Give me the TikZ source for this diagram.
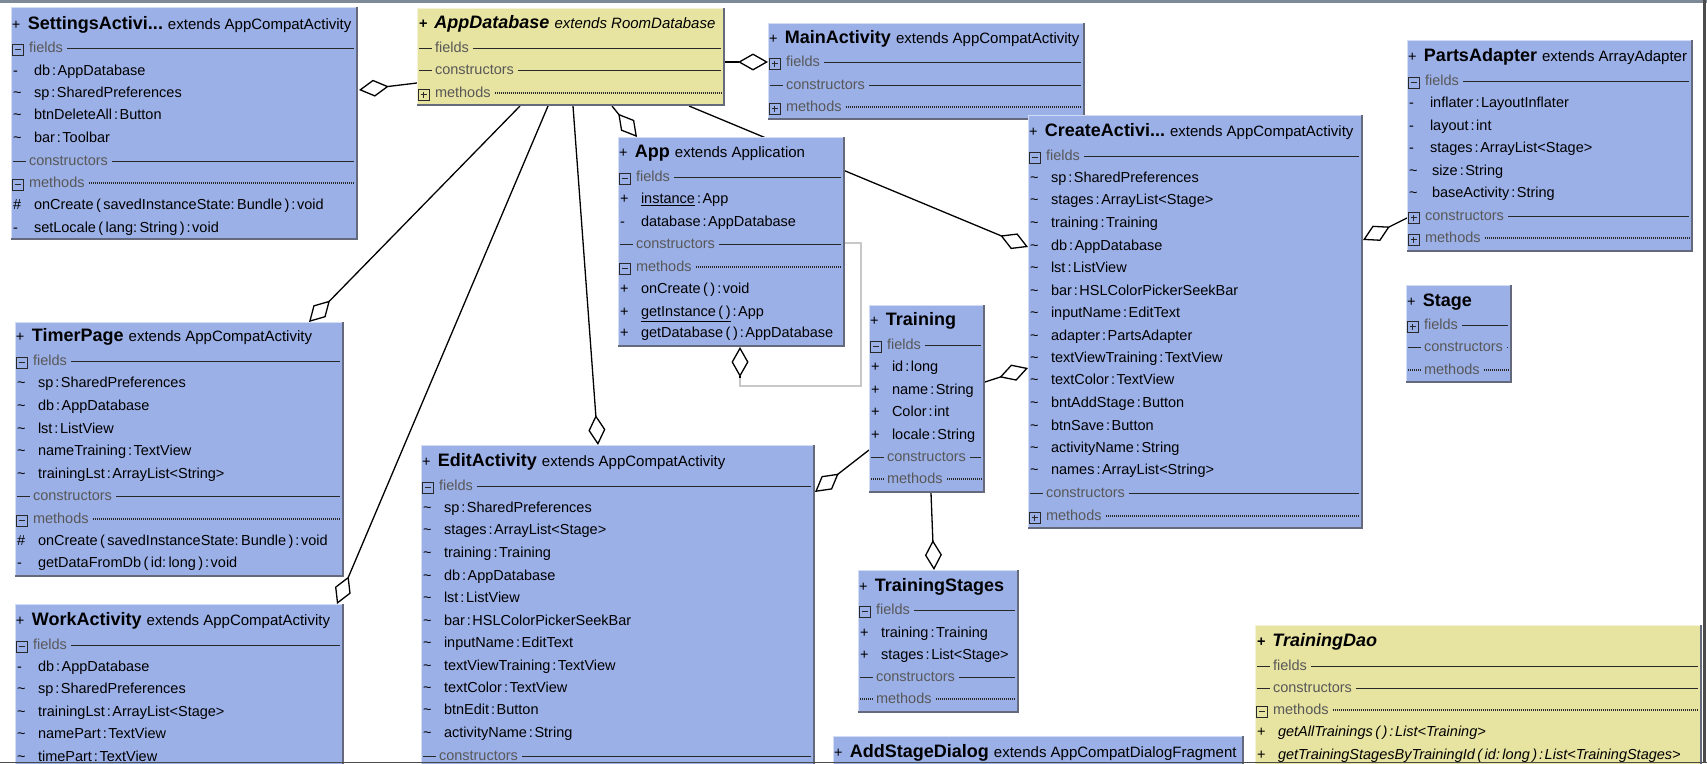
\documentclass[tikz,border=0pt]{standalone}
\usepackage{fontspec}
\setmainfont{Liberation Sans}
\usetikzlibrary{arrows.meta,calc}
\pgfdeclarelayer{bg}
\pgfsetlayers{bg,main}
\definecolor{umlblue}{RGB}{156,176,232}
\definecolor{umlyellow}{RGB}{231,227,161}
\definecolor{edgedark}{RGB}{100,106,124}
\definecolor{seclabel}{RGB}{88,88,88}
\definecolor{secline}{RGB}{40,40,40}
\definecolor{loopgrey}{RGB}{200,200,200}
\definecolor{framegrey}{RGB}{125,137,150}
\newcounter{tn}
\tikzset{
 box/.style={draw=none, inner sep=0pt, outer sep=0pt, rectangle},
 txt/.style={inner sep=0pt, outer sep=0pt, anchor=base west, font=\fontsize{14.5}{17}\selectfont},
 lbl/.style={txt, text=seclabel},
 secsolid/.style={draw=secline, line width=0.9pt},
 secdot/.style={draw=secline, line width=1.1pt, dash pattern=on 1pt off 1pt},
 iconline/.style={draw=secline, line width=1pt},
 conn/.style={draw=black, line width=1.3pt, -{Diamond[length=30pt,width=17pt,fill=white]}},
 loopline/.style={draw=loopgrey, line width=1.3pt},
}
\newcommand\Cn{\hspace{2pt}:\hspace{1.5pt}}
\newcommand\Sp{\hspace{2.5pt}}
\newcommand\Tl{\textasciitilde}
\newcommand\CBox[6]{%
 \node[box, fill=#6, minimum width=#4pt, minimum height=#5pt, anchor=north west] (#1) at (#2,#3) {};
 \draw[white!55!#6, line width=1pt] ([xshift=0.5pt]#1.south west) -- ([xshift=0.5pt,yshift=-0.5pt]#1.north west) -- ([yshift=-0.5pt]#1.north east);
 \draw[edgedark, line width=2pt] ([xshift=-1pt]#1.north east) -- ([xshift=-1pt,yshift=1pt]#1.south east) -- ([yshift=1pt]#1.south west);
}
\newcommand\Ttl[4]{\stepcounter{tn}\node[txt] (n\arabic{tn}) at (#1+1,#2+4.5) {+\hspace{7.5pt}{\fontsize{18}{20}\selectfont\bfseries #3}\hspace{5pt}{\fontsize{15}{17}\selectfont #4}};}
\newcommand\TtlI[4]{\stepcounter{tn}\node[txt] (n\arabic{tn}) at (#1+2,#2+4.5) {{\bfseries +}\hspace{7pt}{\fontsize{18}{20}\selectfont\bfseries\itshape #3}\hspace{5pt}{\fontsize{15}{17}\selectfont\itshape #4}};}
\newcommand\Mem[4]{\stepcounter{tn}\node[txt] (n\arabic{tn}) at (#1+2,#2+4.5) {#3};\stepcounter{tn}\node[txt] (n\arabic{tn}) at (#1+23,#2+4.5) {#4};}
\newcommand\SecBody[5]{%
 \stepcounter{tn}\node[lbl] (n\arabic{tn}) at (#1+18,#2+4.5) {#4};
 \coordinate (r\arabic{tn}) at (0,#2);
 \draw[#5] (n\arabic{tn}.east |- r\arabic{tn}) ++(4,0) -- (#3-4,#2);}
\newcommand\SecM[5]{%
 \draw[iconline] (#1+1,#2-4) rectangle (#1+12,#2+7);
 \draw[iconline] (#1+3.5,#2+1.5) -- (#1+9.5,#2+1.5);
 \SecBody{#1}{#2}{#3}{#4}{#5}}
\newcommand\SecP[5]{%
 \draw[iconline] (#1+1,#2-4) rectangle (#1+12,#2+7);
 \draw[iconline] (#1+3.5,#2+1.5) -- (#1+9.5,#2+1.5);
 \draw[iconline] (#1+6.5,#2-1.5) -- (#1+6.5,#2+4.5);
 \SecBody{#1}{#2}{#3}{#4}{#5}}
\newcommand\SecS[5]{%
 \draw[#5] (#1+2,#2) -- (#1+15,#2);
 \SecBody{#1}{#2}{#3}{#4}{#5}}
\begin{document}
\begin{tikzpicture}[x=1pt,y=-1pt]
\useasboundingbox (0,0) rectangle (1707,763);
\clip (0,0) rectangle (1707,763);
% ---------- boxes ----------
\CBox{settings}{11}{7}{347}{233}{umlblue}
\CBox{appdb}{417}{8}{308}{98}{umlyellow}
\CBox{mainact}{768}{23}{317}{97}{umlblue}
\CBox{app}{618}{137}{227}{210}{umlblue}
\CBox{create}{1028}{115}{335}{414}{umlblue}
\CBox{parts}{1407}{40}{286}{212}{umlblue}
\CBox{stage}{1406}{285}{106}{98}{umlblue}
\CBox{training}{869}{305}{116}{188}{umlblue}
\CBox{timer}{15}{322}{329}{255}{umlblue}
\CBox{work}{15}{604}{329}{220}{umlblue}
\CBox{edit}{421}{445}{394}{360}{umlblue}
\CBox{tstages}{858}{570}{161}{143}{umlblue}
\CBox{addstage}{833}{736}{411}{80}{umlblue}
\CBox{dao}{1255}{625}{447}{180}{umlyellow}
% ---------- SettingsActivity ----------
\Ttl{11}{25}{SettingsActivi...}{extends AppCompatActivity}
\SecM{11}{48}{358}{fields}{secsolid}
\Mem{11}{71}{-}{db\Cn AppDatabase}
\Mem{11}{93}{\Tl}{sp\Cn SharedPreferences}
\Mem{11}{115}{\Tl}{btnDeleteAll\Cn Button}
\Mem{11}{138}{\Tl}{bar\Cn Toolbar}
\SecS{11}{161}{358}{constructors}{secsolid}
\SecM{11}{183}{358}{methods}{secdot}
\Mem{11}{205}{\#}{onCreate\,(\,savedInstanceState:\,Bundle\,)\Cn void}
\Mem{11}{228}{-}{setLocale\,(\,lang:\,String\,)\Cn void}
% ---------- AppDatabase ----------
\TtlI{417}{24}{AppDatabase}{extends RoomDatabase}
\SecS{417}{48}{725}{fields}{secsolid}
\SecS{417}{70}{725}{constructors}{secsolid}
\SecP{417}{93}{725}{methods}{secdot}
% ---------- MainActivity ----------
\Ttl{768}{39}{MainActivity}{extends AppCompatActivity}
\SecP{768}{62}{1085}{fields}{secsolid}
\SecS{768}{85}{1085}{constructors}{secsolid}
\SecP{768}{107}{1085}{methods}{secdot}
% ---------- App ----------
\Ttl{618}{153}{App}{extends Application}
\SecM{618}{177}{845}{fields}{secsolid}
\Mem{618}{199}{+}{\underline{instance}\Cn App}
\Mem{618}{222}{-}{database\Cn AppDatabase}
\SecS{618}{244}{845}{constructors}{secsolid}
\SecM{618}{267}{845}{methods}{secdot}
\Mem{618}{289}{+}{onCreate\Sp(\Sp)\Cn void}
\Mem{618}{312}{+}{\underline{getInstance\Sp(\Sp)}\Cn App}
\Mem{618}{333}{+}{getDatabase\Sp(\Sp)\Cn AppDatabase}
% ---------- CreateActivity ----------
\Ttl{1028}{132}{CreateActivi...}{extends AppCompatActivity}
\SecM{1028}{156}{1363}{fields}{secsolid}
\Mem{1028}{178}{\Tl}{sp\Cn SharedPreferences}
\Mem{1028}{200}{\Tl}{stages\Cn ArrayList<Stage>}
\Mem{1028}{223}{\Tl}{training\Cn Training}
\Mem{1028}{246}{\Tl}{db\Cn AppDatabase}
\Mem{1028}{268}{\Tl}{lst\Cn ListView}
\Mem{1028}{291}{\Tl}{bar\Cn HSLColorPickerSeekBar}
\Mem{1028}{313}{\Tl}{inputName\Cn EditText}
\Mem{1028}{336}{\Tl}{adapter\Cn PartsAdapter}
\Mem{1028}{358}{\Tl}{textViewTraining\Cn TextView}
\Mem{1028}{380}{\Tl}{textColor\Cn TextView}
\Mem{1028}{403}{\Tl}{bntAddStage\Cn Button}
\Mem{1028}{426}{\Tl}{btnSave\Cn Button}
\Mem{1028}{448}{\Tl}{activityName\Cn String}
\Mem{1028}{470}{\Tl}{names\Cn ArrayList<String>}
\SecS{1028}{493}{1363}{constructors}{secsolid}
\SecP{1028}{516}{1363}{methods}{secdot}
% ---------- PartsAdapter ----------
\Ttl{1407}{57}{PartsAdapter}{extends ArrayAdapter}
\SecM{1407}{81}{1693}{fields}{secsolid}
\Mem{1407}{103}{-}{inflater\Cn LayoutInflater}
\Mem{1407}{126}{-}{layout\Cn int}
\Mem{1407}{148}{-}{stages\Cn ArrayList<Stage>}
\Mem{1407}{171}{\Tl}{\hspace{2pt}size\Cn String}
\Mem{1407}{193}{\Tl}{\hspace{2pt}baseActivity\Cn String}
\SecP{1407}{216}{1693}{constructors}{secsolid}
\SecP{1407}{238}{1693}{methods}{secdot}
% ---------- Stage ----------
\Ttl{1406}{302}{Stage}{}
\SecP{1406}{325}{1512}{fields}{secsolid}
\SecS{1406}{347}{1512}{constructors}{secsolid}
\SecS{1406}{370}{1512}{methods}{secdot}
% ---------- Training ----------
\Ttl{869}{321}{Training}{}
\SecM{869}{345}{985}{fields}{secsolid}
\Mem{869}{367}{+}{id\Cn long}
\Mem{869}{390}{+}{name\Cn String}
\Mem{869}{412}{+}{Color\Cn int}
\Mem{869}{435}{+}{locale\Cn String}
\SecS{869}{457}{985}{constructors}{secsolid}
\SecS{869}{479}{985}{methods}{secdot}
% ---------- TimerPage ----------
\Ttl{15}{337}{TimerPage}{extends AppCompatActivity}
\SecM{15}{361}{344}{fields}{secsolid}
\Mem{15}{383}{\Tl}{sp\Cn SharedPreferences}
\Mem{15}{406}{\Tl}{db\Cn AppDatabase}
\Mem{15}{429}{\Tl}{lst\Cn ListView}
\Mem{15}{451}{\Tl}{nameTraining\Cn TextView}
\Mem{15}{474}{\Tl}{trainingLst\Cn ArrayList<String>}
\SecS{15}{496}{344}{constructors}{secsolid}
\SecM{15}{519}{344}{methods}{secdot}
\Mem{15}{541}{\#}{onCreate\,(\,savedInstanceState:\,Bundle\,)\Cn void}
\Mem{15}{563}{-}{getDataFromDb\,(\,id:\,long\,)\Cn void}
% ---------- WorkActivity ----------
\Ttl{15}{621}{WorkActivity}{extends AppCompatActivity}
\SecM{15}{645}{344}{fields}{secsolid}
\Mem{15}{667}{-}{db\Cn AppDatabase}
\Mem{15}{689}{\Tl}{sp\Cn SharedPreferences}
\Mem{15}{712}{\Tl}{trainingLst\Cn ArrayList<Stage>}
\Mem{15}{734}{\Tl}{namePart\Cn TextView}
\Mem{15}{757}{\Tl}{timePart\Cn TextView}
% ---------- EditActivity ----------
\Ttl{421}{462}{EditActivity}{extends AppCompatActivity}
\SecM{421}{486}{815}{fields}{secsolid}
\Mem{421}{508}{\Tl}{sp\Cn SharedPreferences}
\Mem{421}{530}{\Tl}{stages\Cn ArrayList<Stage>}
\Mem{421}{553}{\Tl}{training\Cn Training}
\Mem{421}{576}{\Tl}{db\Cn AppDatabase}
\Mem{421}{598}{\Tl}{lst\Cn ListView}
\Mem{421}{621}{\Tl}{bar\Cn HSLColorPickerSeekBar}
\Mem{421}{643}{\Tl}{inputName\Cn EditText}
\Mem{421}{666}{\Tl}{textViewTraining\Cn TextView}
\Mem{421}{688}{\Tl}{textColor\Cn TextView}
\Mem{421}{710}{\Tl}{btnEdit\Cn Button}
\Mem{421}{733}{\Tl}{activityName\Cn String}
\SecS{421}{756}{815}{constructors}{secsolid}
% ---------- TrainingStages ----------
\Ttl{858}{587}{TrainingStages}{}
\SecM{858}{610}{1019}{fields}{secsolid}
\Mem{858}{633}{+}{training\Cn Training}
\Mem{858}{655}{+}{stages\Cn List<Stage>}
\SecS{858}{677}{1019}{constructors}{secsolid}
\SecS{858}{699}{1019}{methods}{secdot}
% ---------- AddStageDialog ----------
\Ttl{833}{753}{AddStageDialog}{extends AppCompatDialogFragment}
% ---------- TrainingDao ----------
\TtlI{1255}{642}{TrainingDao}{}
\SecS{1255}{666}{1702}{fields}{secsolid}
\SecS{1255}{688}{1702}{constructors}{secsolid}
\SecM{1255}{710}{1702}{methods}{secdot}
\Mem{1255}{732}{+}{\itshape getAllTrainings\Sp(\Sp)\Cn List<Training>}
\Mem{1255}{755}{+}{\itshape getTrainingStagesByTrainingId\Sp(\Sp id:\,long\Sp)\Cn List<TrainingStages>}
% ---------- connectors ----------
\coordinate (c1s) at (417,83);  \coordinate (c1e) at (359,90);
\coordinate (c2s) at (725,62);  \coordinate (c2e) at (768,62);
\coordinate (c3s) at (612,106); \coordinate (c3e) at (637,137);
\coordinate (c4s) at (689,106); \coordinate (c4e) at (1028,247);
\coordinate (c5s) at (520,106); \coordinate (c5e) at (309,322);
\coordinate (c6s) at (548,106); \coordinate (c6e) at (337,604);
\coordinate (c7s) at (573,106); \coordinate (c7e) at (598,445);
\coordinate (c8s) at (869,450); \coordinate (c8e) at (815,492);
\coordinate (c9s) at (985,382); \coordinate (c9e) at (1028,368);
\coordinate (c10s) at (1407,218); \coordinate (c10e) at (1363,240);
\coordinate (c11s) at (931,493); \coordinate (c11e) at (934,570);
\coordinate (l0) at (845,243); \coordinate (l2) at (740,377.5); \coordinate (l1) at (740,347);
\begin{pgfonlayer}{bg}
\fill[white] (0,0) rectangle (1707,763);
\draw[loopline] (l0) -- (861,243) -- (861,386) -- (740,386) -- (l2);
\draw[conn] (c1s) -- (c1e);
\draw[conn] (c2s) -- (c2e);
\draw[conn] (c3s) -- (c3e);
\draw[conn] (c4s) -- (c4e);
\draw[conn] (c5s) -- (c5e);
\draw[conn] (c6s) -- (c6e);
\draw[conn] (c7s) -- (c7e);
\draw[conn] (c8s) -- (c8e);
\draw[conn] (c9s) -- (c9e);
\draw[conn] (c10s) -- (c10e);
\draw[conn] (c11s) -- (c11e);
\draw[conn] (l2) -- (l1);
\end{pgfonlayer}
% ---------- window frame ----------
\fill[framegrey] (0,0) rectangle (1707,2.5);
\fill[black!70] (1703.2,0) rectangle (1705.8,763);
\fill[black!70] (0,761.5) rectangle (1707,763);
\end{tikzpicture}
\end{document}
